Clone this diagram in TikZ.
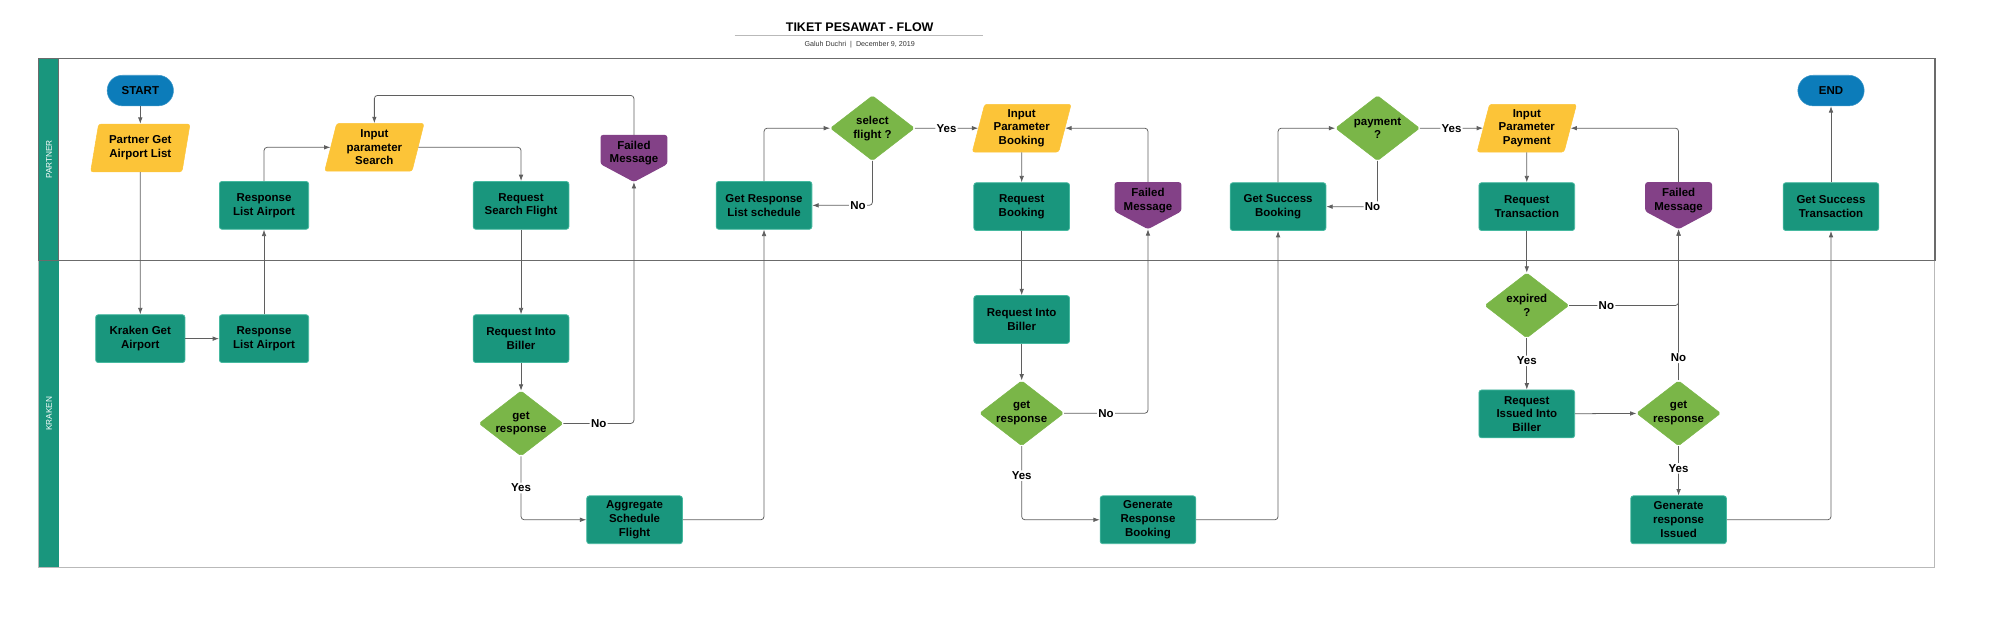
\documentclass[tikz,border=0pt]{standalone}
\usepackage{fontspec}
\setmainfont{Liberation Sans}
\usetikzlibrary{shapes.geometric,arrows.meta,backgrounds}
\definecolor{teal1}{RGB}{25,150,125}
\definecolor{tealb}{RGB}{70,185,160}
\definecolor{yel}{RGB}{252,196,56}
\definecolor{grn}{RGB}{122,182,72}
\definecolor{purp}{RGB}{131,65,135}
\definecolor{blu}{RGB}{12,124,186}
\definecolor{lne}{RGB}{95,95,95}
\begin{document}
\begin{tikzpicture}[x=1pt,y=-1pt,
  base/.style={align=center, font=\bfseries\fontsize{9}{10.8}\selectfont, inner sep=0pt, text=black},
  proc/.style={base, rectangle, rounded corners=2pt, fill=teal1, draw=tealb, line width=0.6pt, minimum width=75pt, minimum height=37.5pt},
  term/.style={base, rectangle, rounded corners=12pt, fill=blu, draw=blu!80!white, minimum width=52pt, minimum height=24pt},
  io/.style={base, trapezium, trapezium left angle=76, trapezium right angle=104, trapezium stretches=true, fill=yel, draw=yel, rounded corners=2pt, minimum width=78pt, minimum height=37.5pt},
  dec/.style={base, diamond, aspect=1.3, fill=grn, draw=grn, minimum width=66pt, minimum height=51pt, rounded corners=1.5pt},
  fail/.style={base, rectangle, minimum width=52pt, minimum height=23pt},
  conn/.style={draw=lne, line width=0.6pt, rounded corners=2.5pt, -{Latex[length=5pt,width=3.6pt]}},
  lbl/.style={font=\bfseries\fontsize{9}{10}\selectfont, fill=white, inner sep=1pt},
]
\useasboundingbox (0,0) rectangle (1568,495);

% title
\node[font=\bfseries\fontsize{9.8}{11}\selectfont] (title) at (674,21.5) {TIKET PESAWAT - FLOW};
\draw[gray!55, line width=0.6pt] (576,28) -- (771,28);
\node[font=\fontsize{5.6}{6}\selectfont, text=black!80] (sub) at (674,34.7) {Galuh Duchri \ | \ December 9, 2019};

% lane labels
\node[rotate=90, text=white, font=\fontsize{6.5}{7}\selectfont] (lp) at (38.5,125) {PARTNER};
\node[rotate=90, text=white, font=\fontsize{6.5}{7}\selectfont] (lk) at (38.5,324.5) {KRAKEN};

% nodes
\node[term] (startn) at (110,71) {START};
\node[io] (pgal) at (110,116) {Partner Get\\Airport List};
\node[proc, minimum width=70pt] (kga) at (110,265.5) {Kraken Get\\Airport};
\node[proc, minimum width=70pt] (rlak) at (207,265.5) {Response\\List Airport};
\node[proc, minimum width=70pt] (rlap) at (207,161) {Response\\List Airport};
\node[io] (ips) at (293.5,115.5) {Input\\parameter\\Search};
\node[proc] (rsf) at (408.5,161) {Request\\Search Flight};
\node[proc] (rib1) at (408.5,265.5) {Request Into\\Biller};
\node[dec] (gr1) at (408.5,332) {get\\response};
\node[fail] (fm1) at (497,120) {Failed\\Message};
\coordinate (fm1-tip) at ([yshift=-11pt]fm1.south);
\node[proc] (asf) at (497.5,407.5) {Aggregate\\Schedule\\Flight};
\node[proc] (grls) at (599,161) {Get Response\\List schedule};
\node[dec] (sf) at (684,100.5) {select\\flight ?};
\node[io] (ipb) at (801,100.5) {Input\\Parameter\\Booking};
\node[proc] (rb) at (801,162) {Request\\Booking};
\node[fail] (fm2) at (900,157) {Failed\\Message};
\coordinate (fm2-tip) at ([yshift=-11pt]fm2.south);
\node[proc] (rib2) at (801,250.5) {Request Into\\Biller};
\node[dec] (gr2) at (801,324) {get\\response};
\node[proc] (grb) at (900,407.5) {Generate\\Response\\Booking};
\node[proc] (gsb) at (1002,162) {Get Success\\Booking};
\node[dec] (pay) at (1080,100.5) {payment\\?};
\node[io] (ipp) at (1197,100.5) {Input\\Parameter\\Payment};
\node[proc] (rt) at (1197,162) {Request\\Transaction};
\node[fail] (fm3) at (1316,157) {Failed\\Message};
\coordinate (fm3-tip) at ([yshift=-11pt]fm3.south);
\node[proc] (gst) at (1435.5,162) {Get Success\\Transaction};
\node[term] (endn) at (1435.5,71) {END};
\node[dec] (exp) at (1197,239.5) {expired\\?};
\node[proc] (riib) at (1197,324.5) {Request\\Issued Into\\Biller};
\node[dec] (gr3) at (1316,324) {get\\response};
\node[proc] (gri) at (1316,407.5) {Generate\\response\\Issued};

% background: lanes and failed-message shapes
\begin{scope}[on background layer]
  \fill[teal1] (30,46) rectangle (46,445);
  \draw[gray!55, line width=0.8pt] (30,46) rectangle (1517,445);
  \draw[black!58, line width=0.85pt] (30,46) rectangle (1517,204);
  \draw[black!58, line width=0.7pt] (46,46) -- (46,204);
  \foreach \f in {fm1,fm2,fm3}
    \fill[purp, rounded corners=2pt] ([yshift=2.5pt]\f.north west) -- ([yshift=2.5pt]\f.north east) -- ([yshift=3pt]\f.south east) -- (\f-tip) -- ([yshift=3pt]\f.south west) -- cycle;
\end{scope}

% connectors
\draw[conn] (startn) -- (pgal);
\draw[conn] (pgal) -- (kga);
\draw[conn] (kga) -- (rlak);
\draw[conn] (rlak) -- (rlap);
\draw[conn] (rlap.north) |- (ips.west);
\draw[conn] (ips.east) -| (rsf.north);
\draw[conn] (rsf) -- (rib1);
\draw[conn] (rib1) -- (gr1);
\draw[conn] (gr1.east) -| node[lbl,pos=0.25]{No} (fm1-tip);
\draw[conn] ([yshift=2.5pt]fm1.north) -- ++(0,-31) -| (ips.north);
\draw[conn] (gr1.south) |- node[lbl,pos=0.25]{Yes} (asf.west);
\draw[conn] (asf.east) -| (grls.south);
\draw[conn] (grls.north) |- (sf.west);
\draw[conn] (sf.south) |- node[lbl,pos=0.62]{No} (grls.east);
\draw[conn] (sf.east) -- node[lbl]{Yes} (ipb.west);
\draw[conn] (ipb) -- (rb);
\draw[conn] (rb) -- (rib2);
\draw[conn] (rib2) -- (gr2);
\draw[conn] (gr2.east) -| node[lbl,pos=0.25]{No} (fm2-tip);
\draw[conn] ([yshift=2.5pt]fm2.north) |- (ipb.east);
\draw[conn] (gr2.south) |- node[lbl,pos=0.2]{Yes} (grb.west);
\draw[conn] (grb.east) -| (gsb.south);
\draw[conn] (gsb.north) |- (pay.west);
\draw[conn] (pay.south) |- node[lbl,pos=0.55]{No} (gsb.east);
\draw[conn] (pay.east) -- node[lbl]{Yes} (ipp.west);
\draw[conn] (ipp) -- (rt);
\draw[conn] (rt) -- (exp);
\draw[conn] (exp.east) -| node[lbl,pos=0.17]{No} (fm3-tip);
\draw[conn] ([yshift=2.5pt]fm3.north) |- (ipp.east);
\draw[conn] (exp.south) -- node[lbl,pos=0.44]{Yes} (riib.north);
\draw[conn] (riib) -- (gr3);
\draw[conn] (gr3.north) -- node[lbl,pos=0.15]{No} (fm3-tip);
\draw[conn] (gr3.south) -- node[lbl,pos=0.45]{Yes} (gri.north);
\draw[conn] (gri.east) -| (gst.south);
\draw[conn] (gst) -- (endn);
\end{tikzpicture}
\end{document}
